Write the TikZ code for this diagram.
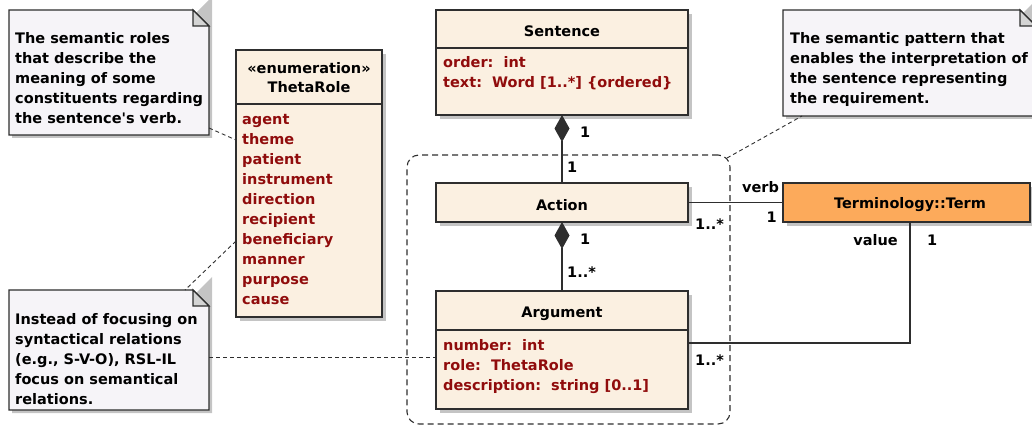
\documentclass[tikz,border=0pt]{standalone}
\usepackage{fontspec}
\setmainfont{DejaVu Sans}
\usetikzlibrary{arrows.meta,shadows}

\definecolor{classfill}{HTML}{FBF0E1}
\definecolor{termfill}{HTML}{FCAA5B}
\definecolor{notefill}{HTML}{F6F4F8}
\definecolor{foldfill}{HTML}{D4D4D4}
\definecolor{attrred}{HTML}{900C0C}
\definecolor{edgegray}{HTML}{2E2E2E}
\definecolor{shadowgray}{HTML}{C4C4C4}

\tikzset{
  boxshadow/.style={drop shadow={shadow xshift=4pt,shadow yshift=-4pt,fill=shadowgray,opacity=1}},
  classbox/.style={rectangle,draw=edgegray,line width=1.1pt,fill=classfill,inner sep=0pt,outer sep=0pt,anchor=north west,boxshadow},
  termbox/.style={classbox,fill=termfill},
  notebox/.style={rectangle,inner sep=0pt,outer sep=0pt,anchor=north west},
  grouping/.style={rectangle,draw=edgegray,line width=1.1pt,dash pattern=on 6pt off 4pt,rounded corners=12pt,inner sep=0pt,outer sep=0pt,anchor=north west},
  title/.style={anchor=base,inner sep=0pt,text=black},
  attr/.style={anchor=base west,inner sep=0pt,text=attrred},
  mult/.style={inner sep=0pt,text=black},
  notetext/.style={anchor=north west,inner sep=0pt,align=left,text=black},
  divider/.style={draw=edgegray,line width=1.1pt},
  assoc/.style={draw=edgegray,line width=1.1pt},
  compose/.style={assoc,{Diamond[length=27pt,width=15pt,fill=edgegray]}-},
  noteline/.style={draw=edgegray,line width=0.9pt,dash pattern=on 4pt off 3pt},
}

% paper of a UML note: shadow, dog-eared sheet and folded corner
\newcommand\notepaper[1]{%
  \fill[shadowgray] ([shift={(3,3)}]#1.north west) -- ([shift={(-13,3)}]#1.north east)
    -- ([shift={(3,-13)}]#1.north east) -- ([shift={(3,3)}]#1.south east)
    -- ([shift={(3,3)}]#1.south west) -- cycle;
  \filldraw[fill=notefill,draw=edgegray,line width=1.1pt] (#1.north west) -- ([xshift=-16pt]#1.north east)
    -- ([yshift=-16pt]#1.north east) -- (#1.south east) -- (#1.south west) -- cycle;
  \filldraw[fill=foldfill,draw=edgegray,line width=1.1pt] ([xshift=-16pt]#1.north east)
    -- ([shift={(-16,16)}]#1.north east) -- ([yshift=-16pt]#1.north east) -- cycle;
}

\begin{document}
\begin{tikzpicture}[x=1pt,y=-1pt,font=\fontsize{14.5}{20}\selectfont\bfseries]
\useasboundingbox (0,0) rectangle (1032,427);

% dashed package boundary around Action and Argument
\node[grouping,minimum width=323,minimum height=269] (group) at (407,155) {};

% notes
\node[notebox,minimum width=200,minimum height=125] (note1) at (9,10) {};
\notepaper{note1}
\node[notetext] (note1t) at (15,29) {\strut The semantic roles\\that describe the\\meaning of some\\constituents regarding\\the sentence\textquotesingle s verb.};

\node[notebox,minimum width=253,minimum height=106] (note2) at (783,10) {};
\notepaper{note2}
\node[notetext] (note2t) at (790,29) {\strut The semantic pattern that\\enables the interpretation of\\the sentence representing\\the requirement.};

\node[notebox,minimum width=200,minimum height=120] (note3) at (9,290) {};
\notepaper{note3}
\node[notetext] (note3t) at (15,310) {\strut Instead of focusing on\\syntactical relations\\(e.g., S-V-O), RSL-IL\\focus on semantical\\relations.};

% enumeration ThetaRole
\node[classbox,minimum width=146,minimum height=267] (theta) at (236,50) {};
\draw[divider] (theta.west |- 0,104) -- (theta.east |- 0,104);
\node[title] (thetaS) at (309,74) {«enumeration»};
\node[title] (thetaN) at (309,93) {ThetaRole};
\foreach \lit [count=\i] in {agent,theme,patient,instrument,direction,recipient,beneficiary,manner,purpose,cause}
  \node[attr] (lit\i) at (242,105+20*\i) {\lit};

% class Sentence
\node[classbox,minimum width=252,minimum height=105] (sentence) at (436,10) {};
\draw[divider] (sentence.west |- 0,48) -- (sentence.east |- 0,48);
\node[title] (sentenceN) at (562,37) {Sentence};
\node[attr] (sentenceA1) at (443,68) {order:\ \ int};
\node[attr] (sentenceA2) at (443,88) {text:\ \ Word [1..*] \{ordered\}};

% class Action
\node[classbox,minimum width=252,minimum height=39] (action) at (436,183) {};
\node[title] (actionN) at (562,211) {Action};

% class Argument
\node[classbox,minimum width=252,minimum height=118] (argument) at (436,291) {};
\draw[divider] (argument.west |- 0,330) -- (argument.east |- 0,330);
\node[title] (argumentN) at (562,317) {Argument};
\node[attr] (argumentA1) at (443,350) {number:\ \ int};
\node[attr] (argumentA2) at (443,370) {role:\ \ ThetaRole};
\node[attr] (argumentA3) at (443,390) {description:\ \ string [0..1]};

% class Terminology::Term
\node[termbox,minimum width=247,minimum height=39] (term) at (783,183) {};
\node[title] (termN) at (910,208.5) {Terminology::Term};

% compositions
\draw[compose] (sentence.south) -- (action.north);
\draw[compose] (action.south) -- (argument.north);

% associations with Term
\draw[assoc] (action.east) -- (term.west);
\draw[assoc] (argument.east |- 0,343) -| ([xshift=127pt]term.south west);

% note anchors
\draw[noteline] (note1.east |- 0,128) -- (theta.west |- 0,140);
\draw[noteline] (theta.west |- 0,241) -- ([xshift=176pt]note3.north west);
\draw[noteline] (note3.east |- 0,357) -- (argument.west |- 0,357);
\draw[noteline] ([shift={(-3,3)}]group.north east) -- ([xshift=19pt]note2.south west);

% multiplicities and role names
\node[mult,anchor=base west] (m1) at (580,138) {1};
\node[mult,anchor=base west] (m2) at (567,173) {1};
\node[mult,anchor=base west] (m3) at (580,245) {1};
\node[mult,anchor=base west] (m4) at (567,278) {1..*};
\node[mult,anchor=base west] (m5) at (695,230) {1..*};
\node[mult,anchor=base west] (verb) at (742,192.5) {verb};
\node[mult,anchor=base east] (m6) at (777,223) {1};
\node[mult,anchor=base east] (value) at (898,246) {value};
\node[mult,anchor=base west] (m7) at (927,246) {1};
\node[mult,anchor=base west] (m8) at (695,365) {1..*};
\end{tikzpicture}
\end{document}
